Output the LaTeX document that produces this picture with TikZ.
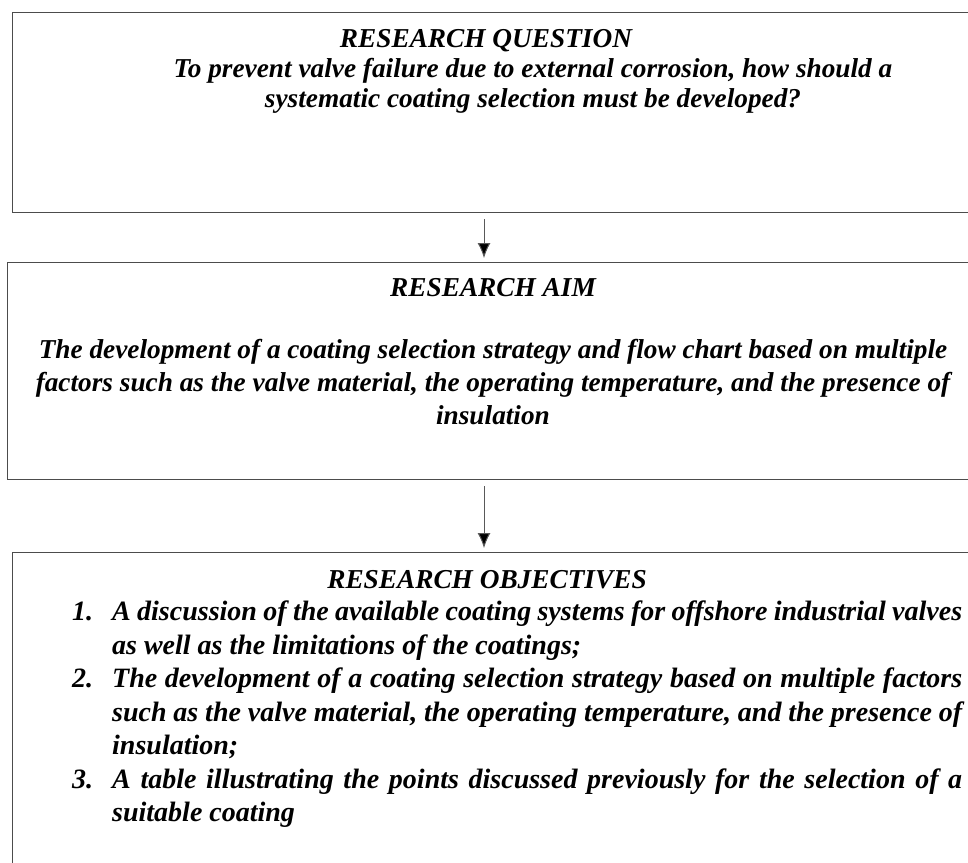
\documentclass[tikz,border=0pt]{standalone}
\usepackage{fontspec}
\setmainfont{Liberation Serif}
\usetikzlibrary{arrows.meta,positioning}

\tikzset{
	frame/.style={draw=black!70,line width=1.4pt,rectangle,inner sep=0pt,anchor=north west},
	txt/.style={font=\fontsize{27.3}{30}\selectfont\bfseries\itshape,inner sep=0pt,align=center},
	arr/.style={draw=black!65,line width=1pt,-{Latex[length=15pt,width=13pt,fill=black]},shorten <=6pt,shorten >=4pt}
}
\newcommand{\objitem}[2]{\hangindent=40pt\hangafter=1\noindent\makebox[40pt][l]{#1}#2\par}

\begin{document}
\begin{tikzpicture}[x=1pt,y=-1pt]
	\useasboundingbox (0,0) rectangle (968,862);
	
	% boxes
	\node[frame,minimum width=975pt,minimum height=200pt] (question) at (12,12) {};
	\node[frame,minimum width=980pt,minimum height=217pt] (aim) at (7,262) {};
	\node[frame,minimum width=975pt,minimum height=340pt] (objectives) at (12,552) {};
	
	% texts
	\node[txt,anchor=north] (qtitle) at (486,29) {RESEARCH QUESTION};
	\node[txt,anchor=north] (qtext) at (533,58.5) {To prevent valve failure due to external corrosion, how should a\\
		systematic coating selection must be developed?};
	\node[txt,font=\fontsize{27.3}{33}\selectfont\bfseries\itshape,anchor=north] (aimtext) at (493,278) {RESEARCH AIM\\[29pt]
		The development of a coating selection strategy and flow chart based on multiple\\
		factors such as the valve material, the operating temperature, and the presence of\\
		insulation};
	\node[txt,anchor=north] (objtitle) at (487,570) {RESEARCH OBJECTIVES};
	\node[txt,font=\fontsize{28}{33.5}\selectfont\bfseries\itshape,align=justify,text width=890pt,anchor=north west] (objlist) at (72,601) {%
		\hyphenpenalty=10000\exhyphenpenalty=10000
		\objitem{1.}{A discussion of the available coating systems for offshore industrial valves as well as the limitations of the coatings;}
		\objitem{2.}{The development of a coating selection strategy based on multiple factors such as the valve material, the operating temperature, and the presence of insulation;}
		\objitem{3.}{A table illustrating the points discussed previously for the selection of a suitable coating}};
	
	% arrows
	\coordinate (axis) at (484,0);
	\draw[arr] (question.south -| axis) -- (aim.north -| axis);
	\draw[arr] (aim.south -| axis) -- (objectives.north -| axis);
\end{tikzpicture}
\end{document}
